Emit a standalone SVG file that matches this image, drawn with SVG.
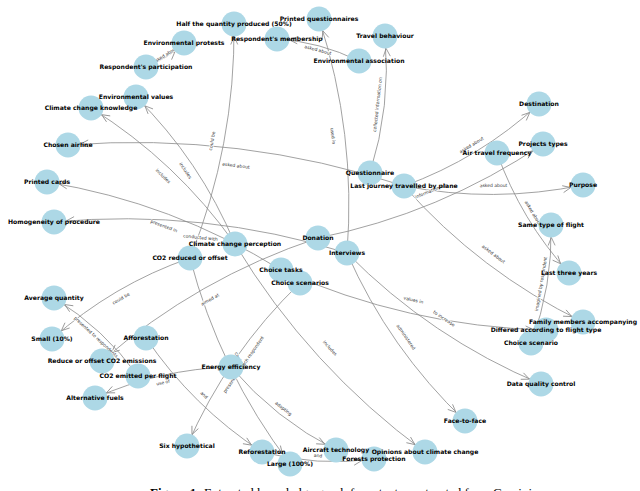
<svg xmlns="http://www.w3.org/2000/svg" width="640" height="491" viewBox="0 0 640 491">
<defs>
<style>
.edge{fill:none;stroke:#8a8a8a;stroke-width:0.8;marker-end:url(#arrow)}
.node circle{fill:#add8e6}
.nl{font-family:"DejaVu Sans",sans-serif;font-weight:bold;font-size:6.1px;fill:#000;text-anchor:middle}
.el{font-family:"DejaVu Sans",sans-serif;font-size:4.5px;fill:#333;text-anchor:middle;stroke:#fff;stroke-width:1.6px;paint-order:stroke;stroke-linejoin:round}
.cap{font-family:"Liberation Serif",serif;font-size:13px;fill:#000}
</style>
<marker id="arrow" markerUnits="userSpaceOnUse" viewBox="-25 -6 30 12" markerWidth="30" markerHeight="12" refX="0" refY="0" orient="auto" overflow="visible">
<path d="M-20.5,-3.5 L-12.5,0 L-20.5,3.5" fill="none" stroke="#8a8a8a" stroke-width="0.8"/>
</marker>
</defs>
<rect width="640" height="491" fill="#fff"/>
<g id="edges">
<path class="edge" d="M146,67 Q167.4,58.8 184,43"/>
<path class="edge" d="M359,61 Q320.2,41.8 277,39"/>
<path class="edge" d="M347,253 Q356.4,133.2 319,19"/>
<path class="edge" d="M370,173 Q391.2,106 385,36"/>
<path class="edge" d="M404,186 Q240.1,131.9 68,145"/>
<path class="edge" d="M190,258 Q235.4,145.4 234,24"/>
<path class="edge" d="M235,244 Q200.2,160.6 136,97"/>
<path class="edge" d="M235,244 Q176.6,161.6 91,108"/>
<path class="edge" d="M281,270 Q172.8,202.6 47,182"/>
<path class="edge" d="M347,253 Q203.6,208.2 54,222"/>
<path class="edge" d="M404,186 Q479.7,158.5 539,104"/>
<path class="edge" d="M404,186 Q493.6,203.4 583,185"/>
<path class="edge" d="M497,153 Q521,220.2 569,273"/>
<path class="edge" d="M404,186 Q479.9,271.9 583,322"/>
<path class="edge" d="M531,343 Q552.8,286 551,225"/>
<path class="edge" d="M281,270 Q407.5,326.5 546,330"/>
<path class="edge" d="M347,253 Q430.9,337.9 541,384"/>
<path class="edge" d="M347,253 Q389.2,348.8 465,421"/>
<path class="edge" d="M235,244 Q309.2,367 425,452"/>
<path class="edge" d="M190,258 Q112.9,284.7 52,339"/>
<path class="edge" d="M138,376 Q103.8,328.6 54,298"/>
<path class="edge" d="M318,238 Q197.7,277.9 102,361"/>
<path class="edge" d="M318,238 Q439.9,213.5 543,144"/>
<path class="edge" d="M146,338 Q192.6,406.6 262,452"/>
<path class="edge" d="M262,452 Q317.3,466.7 374,459"/>
<path class="edge" d="M231,367 Q159.9,368.9 95,398"/>
<path class="edge" d="M231,367 Q275.2,419 336,450"/>
<path class="edge" d="M190,258 Q219.4,371 290,464"/>
<path class="edge" d="M300,283 Q227.2,353.2 187,446"/>
</g>
<g id="edge-labels">
<text class="el" x="165" y="55" dy="0.35em" transform="rotate(-32.3 165 55)">asked about</text>
<text class="el" x="318" y="50" dy="0.35em" transform="rotate(15 318 50)">asked about</text>
<text class="el" x="333" y="136" dy="0.35em" transform="rotate(83.2 333 136)">used in</text>
<text class="el" x="377.5" y="104.5" dy="0.35em" transform="rotate(-83.75 377.5 104.5)">collected information on</text>
<text class="el" x="236" y="165.5" dy="0.35em" transform="rotate(7 236 165.5)">asked about</text>
<text class="el" x="212" y="141" dy="0.35em" transform="rotate(-79.35 212 141)">could be</text>
<text class="el" x="185.5" y="170.5" dy="0.35em" transform="rotate(56 185.5 170.5)">includes</text>
<text class="el" x="163" y="176" dy="0.35em" transform="rotate(43.4 163 176)">includes</text>
<text class="el" x="164" y="226" dy="0.35em" transform="rotate(20.6 164 226)">presented in</text>
<text class="el" x="200.5" y="237.5" dy="0.35em" transform="rotate(6 200.5 237.5)">conducted with</text>
<text class="el" x="471.5" y="145" dy="0.35em" transform="rotate(-31.3 471.5 145)">asked about</text>
<text class="el" x="493.5" y="185.5" dy="0.35em" transform="rotate(-0.3 493.5 185.5)">asked about</text>
<text class="el" x="533" y="213" dy="0.35em" transform="rotate(59 533 213)">asked about</text>
<text class="el" x="493.5" y="254" dy="0.35em" transform="rotate(37.2 493.5 254)">asked about</text>
<text class="el" x="541" y="284" dy="0.35em" transform="rotate(-80.4 541 284)">imagined by respondent</text>
<text class="el" x="413.5" y="300" dy="0.35em" transform="rotate(12.8 413.5 300)">values in</text>
<text class="el" x="444" y="318.5" dy="0.35em" transform="rotate(34 444 318.5)">to increase</text>
<text class="el" x="406" y="337" dy="0.35em" transform="rotate(54.9 406 337)">administered</text>
<text class="el" x="330" y="348" dy="0.35em" transform="rotate(47.6 330 348)">includes</text>
<text class="el" x="121" y="298.5" dy="0.35em" transform="rotate(-30.4 121 298.5)">could be</text>
<text class="el" x="96" y="337" dy="0.35em" transform="rotate(42.9 96 337)">presented to respondents</text>
<text class="el" x="210" y="299.5" dy="0.35em" transform="rotate(-29.7 210 299.5)">aimed at</text>
<text class="el" x="430.5" y="191" dy="0.35em" transform="rotate(-22.7 430.5 191)">information on</text>
<text class="el" x="204" y="395" dy="0.35em" transform="rotate(44.5 204 395)">and</text>
<text class="el" x="318" y="455.5" dy="0.35em" transform="rotate(3.6 318 455.5)">and</text>
<text class="el" x="163" y="382.5" dy="0.35em" transform="rotate(-12.8 163 382.5)">use of</text>
<text class="el" x="283.5" y="408.5" dy="0.35em" transform="rotate(38.3 283.5 408.5)">adopting</text>
<text class="el" x="240" y="361" dy="0.35em" transform="rotate(64.1 240 361)">could be</text>
<text class="el" x="243.5" y="364.5" dy="0.35em" transform="rotate(-55.3 243.5 364.5)">presented to each respondent</text>
</g>
<g id="nodes">
<g id="n-half" class="node"><circle cx="234" cy="24" r="12.5"/></g>
<g id="n-printed-questionnaires" class="node"><circle cx="319" cy="19" r="12.5"/></g>
<g id="n-membership" class="node"><circle cx="277" cy="39" r="12.5"/></g>
<g id="n-env-protests" class="node"><circle cx="184" cy="43" r="12.5"/></g>
<g id="n-travel-behaviour" class="node"><circle cx="385" cy="36" r="12.5"/></g>
<g id="n-env-association" class="node"><circle cx="359" cy="61" r="12.5"/></g>
<g id="n-participation" class="node"><circle cx="146" cy="67" r="12.5"/></g>
<g id="n-env-values" class="node"><circle cx="136" cy="97" r="12.5"/></g>
<g id="n-cc-knowledge" class="node"><circle cx="91" cy="108" r="12.5"/></g>
<g id="n-destination" class="node"><circle cx="539" cy="104" r="12.5"/></g>
<g id="n-projects-types" class="node"><circle cx="543" cy="144" r="12.5"/></g>
<g id="n-air-travel-frequency" class="node"><circle cx="497" cy="153" r="12.5"/></g>
<g id="n-chosen-airline" class="node"><circle cx="68" cy="145" r="12.5"/></g>
<g id="n-questionnaire" class="node"><circle cx="370" cy="173" r="12.5"/></g>
<g id="n-last-journey" class="node"><circle cx="404" cy="186" r="12.5"/></g>
<g id="n-printed-cards" class="node"><circle cx="47" cy="182" r="12.5"/></g>
<g id="n-purpose" class="node"><circle cx="583" cy="185" r="12.5"/></g>
<g id="n-homogeneity" class="node"><circle cx="54" cy="222" r="12.5"/></g>
<g id="n-same-type" class="node"><circle cx="551" cy="225" r="12.5"/></g>
<g id="n-donation" class="node"><circle cx="318" cy="238" r="12.5"/></g>
<g id="n-cc-perception" class="node"><circle cx="235" cy="244" r="12.5"/></g>
<g id="n-interviews" class="node"><circle cx="347" cy="253" r="12.5"/></g>
<g id="n-co2-reduced" class="node"><circle cx="190" cy="258" r="12.5"/></g>
<g id="n-choice-tasks" class="node"><circle cx="281" cy="270" r="12.5"/></g>
<g id="n-last-three-years" class="node"><circle cx="569" cy="273" r="12.5"/></g>
<g id="n-choice-scenarios" class="node"><circle cx="300" cy="283" r="12.5"/></g>
<g id="n-average-quantity" class="node"><circle cx="54" cy="298" r="12.5"/></g>
<g id="n-family-members" class="node"><circle cx="583" cy="322" r="12.5"/></g>
<g id="n-differed" class="node"><circle cx="546" cy="330" r="12.5"/></g>
<g id="n-small" class="node"><circle cx="52" cy="339" r="12.5"/></g>
<g id="n-afforestation" class="node"><circle cx="146" cy="338" r="12.5"/></g>
<g id="n-choice-scenario" class="node"><circle cx="531" cy="343" r="12.5"/></g>
<g id="n-reduce-offset" class="node"><circle cx="102" cy="361" r="12.5"/></g>
<g id="n-energy-efficiency" class="node"><circle cx="231" cy="367" r="12.5"/></g>
<g id="n-co2-emitted" class="node"><circle cx="138" cy="376" r="12.5"/></g>
<g id="n-data-quality" class="node"><circle cx="541" cy="384" r="12.5"/></g>
<g id="n-alternative-fuels" class="node"><circle cx="95" cy="398" r="12.5"/></g>
<g id="n-face-to-face" class="node"><circle cx="465" cy="421" r="12.5"/></g>
<g id="n-six-hypothetical" class="node"><circle cx="187" cy="446" r="12.5"/></g>
<g id="n-reforestation" class="node"><circle cx="262" cy="452" r="12.5"/></g>
<g id="n-aircraft-technology" class="node"><circle cx="336" cy="450" r="12.5"/></g>
<g id="n-opinions" class="node"><circle cx="425" cy="452" r="12.5"/></g>
<g id="n-forests-protection" class="node"><circle cx="374" cy="459" r="12.5"/></g>
<g id="n-large" class="node"><circle cx="290" cy="464" r="12.5"/></g>
</g>
<g id="node-labels">
<text class="nl" x="234" y="24" dy="0.35em">Half the quantity produced (50%)</text>
<text class="nl" x="319" y="19" dy="0.35em">Printed questionnaires</text>
<text class="nl" x="277" y="39" dy="0.35em">Respondent's membership</text>
<text class="nl" x="184" y="43" dy="0.35em">Environmental protests</text>
<text class="nl" x="385" y="36" dy="0.35em">Travel behaviour</text>
<text class="nl" x="359" y="61" dy="0.35em">Environmental association</text>
<text class="nl" x="146" y="67" dy="0.35em">Respondent's participation</text>
<text class="nl" x="136" y="97" dy="0.35em">Environmental values</text>
<text class="nl" x="91" y="108" dy="0.35em">Climate change knowledge</text>
<text class="nl" x="539" y="104" dy="0.35em">Destination</text>
<text class="nl" x="543" y="144" dy="0.35em">Projects types</text>
<text class="nl" x="497" y="153" dy="0.35em">Air travel frequency</text>
<text class="nl" x="68" y="145" dy="0.35em">Chosen airline</text>
<text class="nl" x="370" y="173" dy="0.35em">Questionnaire</text>
<text class="nl" x="404" y="186" dy="0.35em">Last journey travelled by plane</text>
<text class="nl" x="47" y="182" dy="0.35em">Printed cards</text>
<text class="nl" x="583" y="185" dy="0.35em">Purpose</text>
<text class="nl" x="54" y="222" dy="0.35em">Homogeneity of procedure</text>
<text class="nl" x="551" y="225" dy="0.35em">Same type of flight</text>
<text class="nl" x="318" y="238" dy="0.35em">Donation</text>
<text class="nl" x="235" y="244" dy="0.35em">Climate change perception</text>
<text class="nl" x="347" y="253" dy="0.35em">Interviews</text>
<text class="nl" x="190" y="258" dy="0.35em">CO2 reduced or offset</text>
<text class="nl" x="281" y="270" dy="0.35em">Choice tasks</text>
<text class="nl" x="569" y="273" dy="0.35em">Last three years</text>
<text class="nl" x="300" y="283" dy="0.35em">Choice scenarios</text>
<text class="nl" x="54" y="298" dy="0.35em">Average quantity</text>
<text class="nl" x="583" y="322" dy="0.35em">Family members accompanying</text>
<text class="nl" x="546" y="330" dy="0.35em">Differed according to flight type</text>
<text class="nl" x="52" y="339" dy="0.35em">Small (10%)</text>
<text class="nl" x="146" y="338" dy="0.35em">Afforestation</text>
<text class="nl" x="531" y="343" dy="0.35em">Choice scenario</text>
<text class="nl" x="102" y="361" dy="0.35em">Reduce or offset CO2 emissions</text>
<text class="nl" x="231" y="367" dy="0.35em">Energy efficiency</text>
<text class="nl" x="138" y="376" dy="0.35em">CO2 emitted per flight</text>
<text class="nl" x="541" y="384" dy="0.35em">Data quality control</text>
<text class="nl" x="95" y="398" dy="0.35em">Alternative fuels</text>
<text class="nl" x="465" y="421" dy="0.35em">Face-to-face</text>
<text class="nl" x="187" y="446" dy="0.35em">Six hypothetical</text>
<text class="nl" x="262" y="452" dy="0.35em">Reforestation</text>
<text class="nl" x="336" y="450" dy="0.35em">Aircraft technology</text>
<text class="nl" x="425" y="452" dy="0.35em">Opinions about climate change</text>
<text class="nl" x="374" y="459" dy="0.35em">Forests protection</text>
<text class="nl" x="290" y="464" dy="0.35em">Large (100%)</text>
</g>
<text class="cap" x="150" y="497"><tspan font-weight="bold">Figure 1:</tspan> Extracted knowledge graph from text constructed from Gemini</text>
</svg>
